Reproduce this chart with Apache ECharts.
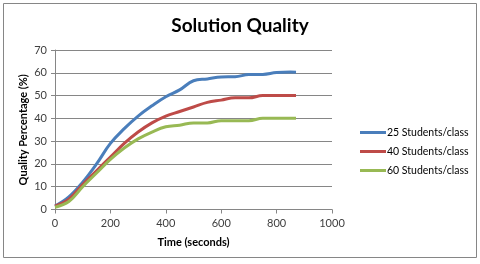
<!DOCTYPE html>
<html><head><meta charset="utf-8">
<script src="https://cdn.jsdelivr.net/npm/echarts@6/dist/echarts.min.js"></script>
<style>html,body{margin:0;padding:0;background:#fff}#c{width:480px;height:264px}</style>
</head><body><div id="c"></div>
<script>
const times = [0, 50, 100, 150, 200, 250, 300, 350, 400, 450, 500, 550, 600, 650, 700, 750, 800, 850, 870];
const s25 = [1.5, 5.5, 12, 20, 29, 35.5, 41, 45.5, 49.5, 52.5, 56.5, 57.3, 58.2, 58.3, 59.2, 59.3, 60.1, 60.3, 60.2];
const s40 = [1.5, 4.5, 11, 17, 23, 29, 34, 38, 41, 43, 45, 47, 48, 49, 49, 50, 50, 50, 50];
const s60 = [1, 3.5, 10, 16, 22, 27, 31, 34, 36.3, 37, 38, 38, 39, 39, 39, 40, 40, 40, 40];
const seriesNames = ['25 Students/class', '40 Students/class', '60 Students/class'];
const colors = ['#4a7ebb', '#be4b48', '#98b954'];
const font = 'Lato, "Open Sans", sans-serif';
const chart = echarts.init(document.getElementById('c'));
const mk = (name, vals, col) => ({
  name, type: 'line', smooth: 0.4, showSymbol: false,
  data: times.map((t, i) => [t, vals[i]]),
  lineStyle: { color: col, width: 3 }, itemStyle: { color: col }
});
chart.setOption({
  animation: false,
  title: { text: 'Solution Quality', left: 235, textAlign: 'center', top: 11,
    textStyle: { fontFamily: font, fontWeight: 'bold', fontSize: 19, color: '#000' } },
  legend: { orient: 'vertical', left: 355, top: 122, itemGap: 8, itemWidth: 26, itemHeight: 3,
    icon: 'rect', textStyle: { fontFamily: font, fontSize: 10.5, color: '#000', padding: [0,0,0,-4] },
    data: seriesNames },
  grid: { left: 55, right: 148, top: 50, bottom: 54.5 },
  xAxis: { type: 'value', min: 0, max: 1000, interval: 200,
    name: 'Time (seconds)', nameLocation: 'middle', nameGap: 27, nameMoveOverlap: false,
    nameTextStyle: { fontFamily: font, fontWeight: 'bold', fontSize: 11, color: '#000' },
    axisLine: { lineStyle: { color: '#868686' } },
    axisTick: { show: true, length: 4, lineStyle: { color: '#868686' } },
    axisLabel: { fontFamily: font, fontSize: 11, color: '#404040', margin: 8, formatter: v => String(v) },
    splitLine: { show: false } },
  yAxis: { type: 'value', min: 0, max: 70, interval: 10,
    name: 'Quality Percentage (%)', nameLocation: 'middle', nameGap: 26, nameMoveOverlap: false,
    nameTextStyle: { fontFamily: font, fontWeight: 'bold', fontSize: 11, color: '#000' },
    axisLine: { show: true, lineStyle: { color: '#868686' } },
    axisTick: { show: true, length: 4, lineStyle: { color: '#868686' } },
    axisLabel: { fontFamily: font, fontSize: 11, color: '#404040', margin: 8 },
    splitLine: { lineStyle: { color: '#868686' } } },
  graphic: [{ type: 'rect', shape: { x: 3.5, y: 3.5, width: 473, height: 254 },
    style: { fill: 'none', stroke: '#868686', lineWidth: 1 }, silent: true }],
  series: [mk(seriesNames[0], s25, colors[0]), mk(seriesNames[1], s40, colors[1]), mk(seriesNames[2], s60, colors[2])]
});
</script></body></html>
